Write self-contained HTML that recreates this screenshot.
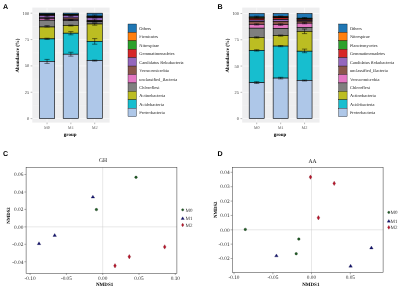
<!DOCTYPE html>
<html><head><meta charset="utf-8"><title>Figure</title>
<style>
html,body{margin:0;padding:0;background:#fff;}
body{width:400px;height:287px;overflow:hidden;font-family:"Liberation Serif",serif;}
svg{display:block;will-change:transform;text-rendering:geometricPrecision;}
</style></head><body>
<svg width="400" height="287" viewBox="0 0 400 287">
<rect x="0" y="0" width="400" height="287" fill="#FFFFFF"/>
<g>
<text x="2.9" y="9" font-size="7.1" text-anchor="start" fill="#000" font-weight="bold" font-family='"Liberation Sans",sans-serif'>A</text>
<text x="217.6" y="9" font-size="7.1" text-anchor="start" fill="#000" font-weight="bold" font-family='"Liberation Sans",sans-serif'>B</text>
<text x="2.9" y="156" font-size="7.1" text-anchor="start" fill="#000" font-weight="bold" font-family='"Liberation Sans",sans-serif'>C</text>
<text x="217.6" y="155.7" font-size="7.1" text-anchor="start" fill="#000" font-weight="bold" font-family='"Liberation Sans",sans-serif'>D</text>
<rect x="32.3" y="7.6" width="77.3" height="115" fill="#EEEEEF"/>
<line x1="32.3" y1="105.42" x2="109.6" y2="105.42" stroke="#F7F7F7" stroke-width="0.3"/>
<line x1="32.3" y1="79.08" x2="109.6" y2="79.08" stroke="#F7F7F7" stroke-width="0.3"/>
<line x1="32.3" y1="52.73" x2="109.6" y2="52.73" stroke="#F7F7F7" stroke-width="0.3"/>
<line x1="32.3" y1="26.38" x2="109.6" y2="26.38" stroke="#F7F7F7" stroke-width="0.3"/>
<line x1="32.3" y1="118.6" x2="109.6" y2="118.6" stroke="#FFFFFF" stroke-width="0.55"/>
<line x1="32.3" y1="92.25" x2="109.6" y2="92.25" stroke="#FFFFFF" stroke-width="0.55"/>
<line x1="32.3" y1="65.9" x2="109.6" y2="65.9" stroke="#FFFFFF" stroke-width="0.55"/>
<line x1="32.3" y1="39.55" x2="109.6" y2="39.55" stroke="#FFFFFF" stroke-width="0.55"/>
<line x1="32.3" y1="13.2" x2="109.6" y2="13.2" stroke="#FFFFFF" stroke-width="0.55"/>
<line x1="47.05" y1="7.6" x2="47.05" y2="122.6" stroke="#FFFFFF" stroke-width="0.55"/>
<line x1="70.85" y1="7.6" x2="70.85" y2="122.6" stroke="#FFFFFF" stroke-width="0.55"/>
<line x1="94.7" y1="7.6" x2="94.7" y2="122.6" stroke="#FFFFFF" stroke-width="0.55"/>
<line x1="30.6" y1="118.6" x2="32.3" y2="118.6" stroke="#555" stroke-width="0.4"/>
<text x="29.1" y="120.1" font-size="4.4" text-anchor="end" fill="#444" font-weight="normal" font-family='"Liberation Serif",serif'>0</text>
<line x1="30.6" y1="92.25" x2="32.3" y2="92.25" stroke="#555" stroke-width="0.4"/>
<text x="29.1" y="93.75" font-size="4.4" text-anchor="end" fill="#444" font-weight="normal" font-family='"Liberation Serif",serif'>25</text>
<line x1="30.6" y1="65.9" x2="32.3" y2="65.9" stroke="#555" stroke-width="0.4"/>
<text x="29.1" y="67.4" font-size="4.4" text-anchor="end" fill="#444" font-weight="normal" font-family='"Liberation Serif",serif'>50</text>
<line x1="30.6" y1="39.55" x2="32.3" y2="39.55" stroke="#555" stroke-width="0.4"/>
<text x="29.1" y="41.05" font-size="4.4" text-anchor="end" fill="#444" font-weight="normal" font-family='"Liberation Serif",serif'>75</text>
<line x1="30.6" y1="13.2" x2="32.3" y2="13.2" stroke="#555" stroke-width="0.4"/>
<text x="29.1" y="14.7" font-size="4.4" text-anchor="end" fill="#444" font-weight="normal" font-family='"Liberation Serif",serif'>100</text>
<line x1="47.05" y1="122.6" x2="47.05" y2="124.2" stroke="#555" stroke-width="0.4"/>
<text x="47.05" y="129" font-size="4.3" text-anchor="middle" fill="#5A5A5A" font-weight="normal" font-family='"Liberation Serif",serif'>M0</text>
<line x1="70.85" y1="122.6" x2="70.85" y2="124.2" stroke="#555" stroke-width="0.4"/>
<text x="70.85" y="129" font-size="4.3" text-anchor="middle" fill="#5A5A5A" font-weight="normal" font-family='"Liberation Serif",serif'>M1</text>
<line x1="94.7" y1="122.6" x2="94.7" y2="124.2" stroke="#555" stroke-width="0.4"/>
<text x="94.7" y="129" font-size="4.3" text-anchor="middle" fill="#5A5A5A" font-weight="normal" font-family='"Liberation Serif",serif'>M2</text>
<text x="70.15" y="136.3" font-size="5" text-anchor="middle" fill="#000" font-weight="bold" font-family='"Liberation Serif",serif'>group</text>
<text x="0" y="0" font-size="5" font-weight="bold" text-anchor="middle" font-family='"Liberation Serif",serif' transform="translate(19.4,55.5) rotate(-90)">Abundance (%)</text>
<rect x="39.4" y="13.1" width="15.3" height="1" fill="#1F77B4" stroke="#000" stroke-width="0.6"/>
<rect x="39.4" y="14.1" width="15.3" height="0.5" fill="#FF7F0E" stroke="#000" stroke-width="0.6"/>
<rect x="39.4" y="14.6" width="15.3" height="0.5" fill="#2CA02C" stroke="#000" stroke-width="0.6"/>
<rect x="39.4" y="15.1" width="15.3" height="0.5" fill="#D62728" stroke="#000" stroke-width="0.6"/>
<rect x="39.4" y="15.6" width="15.3" height="2.3" fill="#9467BD" stroke="#000" stroke-width="0.6"/>
<rect x="39.4" y="17.9" width="15.3" height="0.6" fill="#8C564B" stroke="#000" stroke-width="0.6"/>
<rect x="39.4" y="18.5" width="15.3" height="1.7" fill="#E377C2" stroke="#000" stroke-width="0.6"/>
<rect x="39.4" y="20.2" width="15.3" height="6.8" fill="#7F7F7F" stroke="#000" stroke-width="0.6"/>
<rect x="39.4" y="27" width="15.3" height="11.9" fill="#BCBD22" stroke="#000" stroke-width="0.6"/>
<rect x="39.4" y="38.9" width="15.3" height="22.4" fill="#17BECF" stroke="#000" stroke-width="0.6"/>
<rect x="39.4" y="61.3" width="15.3" height="57.3" fill="#AEC7E8" stroke="#000" stroke-width="0.6"/>
<rect x="63.2" y="13.1" width="15.3" height="1.2" fill="#1F77B4" stroke="#000" stroke-width="0.6"/>
<rect x="63.2" y="14.3" width="15.3" height="0.4" fill="#FF7F0E" stroke="#000" stroke-width="0.6"/>
<rect x="63.2" y="14.7" width="15.3" height="0.4" fill="#2CA02C" stroke="#000" stroke-width="0.6"/>
<rect x="63.2" y="15.1" width="15.3" height="0.4" fill="#D62728" stroke="#000" stroke-width="0.6"/>
<rect x="63.2" y="15.5" width="15.3" height="2.5" fill="#9467BD" stroke="#000" stroke-width="0.6"/>
<rect x="63.2" y="18" width="15.3" height="1.6" fill="#8C564B" stroke="#000" stroke-width="0.6"/>
<rect x="63.2" y="19.6" width="15.3" height="1" fill="#E377C2" stroke="#000" stroke-width="0.6"/>
<rect x="63.2" y="20.6" width="15.3" height="4.9" fill="#7F7F7F" stroke="#000" stroke-width="0.6"/>
<rect x="63.2" y="25.5" width="15.3" height="7.7" fill="#BCBD22" stroke="#000" stroke-width="0.6"/>
<rect x="63.2" y="33.2" width="15.3" height="21" fill="#17BECF" stroke="#000" stroke-width="0.6"/>
<rect x="63.2" y="54.2" width="15.3" height="64.4" fill="#AEC7E8" stroke="#000" stroke-width="0.6"/>
<rect x="87.05" y="13.2" width="15.3" height="2.9" fill="#1F77B4" stroke="#000" stroke-width="0.6"/>
<rect x="87.05" y="16.1" width="15.3" height="0.5" fill="#FF7F0E" stroke="#000" stroke-width="0.6"/>
<rect x="87.05" y="16.6" width="15.3" height="0.5" fill="#2CA02C" stroke="#000" stroke-width="0.6"/>
<rect x="87.05" y="17.1" width="15.3" height="0.7" fill="#D62728" stroke="#000" stroke-width="0.6"/>
<rect x="87.05" y="17.8" width="15.3" height="2.6" fill="#9467BD" stroke="#000" stroke-width="0.6"/>
<rect x="87.05" y="20.4" width="15.3" height="0.8" fill="#8C564B" stroke="#000" stroke-width="0.6"/>
<rect x="87.05" y="21.2" width="15.3" height="0.6" fill="#E377C2" stroke="#000" stroke-width="0.6"/>
<rect x="87.05" y="21.8" width="15.3" height="2.2" fill="#7F7F7F" stroke="#000" stroke-width="0.6"/>
<rect x="87.05" y="24" width="15.3" height="17.3" fill="#BCBD22" stroke="#000" stroke-width="0.6"/>
<rect x="87.05" y="41.3" width="15.3" height="19.2" fill="#17BECF" stroke="#000" stroke-width="0.6"/>
<rect x="87.05" y="60.5" width="15.3" height="58.1" fill="#AEC7E8" stroke="#000" stroke-width="0.6"/>
<line x1="47.05" y1="59.4" x2="47.05" y2="63.4" stroke="#000" stroke-width="0.5"/>
<line x1="44.45" y1="59.4" x2="49.65" y2="59.4" stroke="#000" stroke-width="0.5"/>
<line x1="44.45" y1="63.4" x2="49.65" y2="63.4" stroke="#000" stroke-width="0.5"/>
<line x1="47.05" y1="38.2" x2="47.05" y2="39.4" stroke="#000" stroke-width="0.5"/>
<line x1="44.45" y1="38.2" x2="49.65" y2="38.2" stroke="#000" stroke-width="0.5"/>
<line x1="44.45" y1="39.4" x2="49.65" y2="39.4" stroke="#000" stroke-width="0.5"/>
<line x1="47.05" y1="25.6" x2="47.05" y2="27" stroke="#000" stroke-width="0.5"/>
<line x1="44.45" y1="25.6" x2="49.65" y2="25.6" stroke="#000" stroke-width="0.5"/>
<line x1="44.45" y1="27" x2="49.65" y2="27" stroke="#000" stroke-width="0.5"/>
<line x1="47.05" y1="15.2" x2="47.05" y2="16.8" stroke="#000" stroke-width="0.5"/>
<line x1="44.45" y1="15.2" x2="49.65" y2="15.2" stroke="#000" stroke-width="0.5"/>
<line x1="44.45" y1="16.8" x2="49.65" y2="16.8" stroke="#000" stroke-width="0.5"/>
<line x1="47.05" y1="18.5" x2="47.05" y2="19.5" stroke="#000" stroke-width="0.5"/>
<line x1="44.45" y1="18.5" x2="49.65" y2="18.5" stroke="#000" stroke-width="0.5"/>
<line x1="44.45" y1="19.5" x2="49.65" y2="19.5" stroke="#000" stroke-width="0.5"/>
<line x1="70.85" y1="52.25" x2="70.85" y2="56.15" stroke="#000" stroke-width="0.5"/>
<line x1="68.25" y1="52.25" x2="73.45" y2="52.25" stroke="#000" stroke-width="0.5"/>
<line x1="68.25" y1="56.15" x2="73.45" y2="56.15" stroke="#000" stroke-width="0.5"/>
<line x1="70.85" y1="31.6" x2="70.85" y2="34.8" stroke="#000" stroke-width="0.5"/>
<line x1="68.25" y1="31.6" x2="73.45" y2="31.6" stroke="#000" stroke-width="0.5"/>
<line x1="68.25" y1="34.8" x2="73.45" y2="34.8" stroke="#000" stroke-width="0.5"/>
<line x1="70.85" y1="25" x2="70.85" y2="26" stroke="#000" stroke-width="0.5"/>
<line x1="68.25" y1="25" x2="73.45" y2="25" stroke="#000" stroke-width="0.5"/>
<line x1="68.25" y1="26" x2="73.45" y2="26" stroke="#000" stroke-width="0.5"/>
<line x1="70.85" y1="15.2" x2="70.85" y2="16.4" stroke="#000" stroke-width="0.5"/>
<line x1="68.25" y1="15.2" x2="73.45" y2="15.2" stroke="#000" stroke-width="0.5"/>
<line x1="68.25" y1="16.4" x2="73.45" y2="16.4" stroke="#000" stroke-width="0.5"/>
<line x1="70.85" y1="19.5" x2="70.85" y2="20.5" stroke="#000" stroke-width="0.5"/>
<line x1="68.25" y1="19.5" x2="73.45" y2="19.5" stroke="#000" stroke-width="0.5"/>
<line x1="68.25" y1="20.5" x2="73.45" y2="20.5" stroke="#000" stroke-width="0.5"/>
<line x1="94.7" y1="60.1" x2="94.7" y2="61.1" stroke="#000" stroke-width="0.5"/>
<line x1="92.1" y1="60.1" x2="97.3" y2="60.1" stroke="#000" stroke-width="0.5"/>
<line x1="92.1" y1="61.1" x2="97.3" y2="61.1" stroke="#000" stroke-width="0.5"/>
<line x1="94.7" y1="38.6" x2="94.7" y2="44.2" stroke="#000" stroke-width="0.5"/>
<line x1="92.1" y1="38.6" x2="97.3" y2="38.6" stroke="#000" stroke-width="0.5"/>
<line x1="92.1" y1="44.2" x2="97.3" y2="44.2" stroke="#000" stroke-width="0.5"/>
<line x1="94.7" y1="23.2" x2="94.7" y2="25.2" stroke="#000" stroke-width="0.5"/>
<line x1="92.1" y1="23.2" x2="97.3" y2="23.2" stroke="#000" stroke-width="0.5"/>
<line x1="92.1" y1="25.2" x2="97.3" y2="25.2" stroke="#000" stroke-width="0.5"/>
<line x1="94.7" y1="15" x2="94.7" y2="17.4" stroke="#000" stroke-width="0.5"/>
<line x1="92.1" y1="15" x2="97.3" y2="15" stroke="#000" stroke-width="0.5"/>
<line x1="92.1" y1="17.4" x2="97.3" y2="17.4" stroke="#000" stroke-width="0.5"/>
<line x1="94.7" y1="19" x2="94.7" y2="22" stroke="#000" stroke-width="0.5"/>
<line x1="92.1" y1="19" x2="97.3" y2="19" stroke="#000" stroke-width="0.5"/>
<line x1="92.1" y1="22" x2="97.3" y2="22" stroke="#000" stroke-width="0.5"/>
<rect x="128" y="24" width="8.5" height="8.42" fill="#1F77B4" stroke="#000" stroke-width="0.35"/>
<text x="139.3" y="30.01" font-size="4.4" text-anchor="start" fill="#222" font-weight="normal" font-family='"Liberation Serif",serif'>Others</text>
<rect x="128" y="32.42" width="8.5" height="8.42" fill="#FF7F0E" stroke="#000" stroke-width="0.35"/>
<text x="139.3" y="38.43" font-size="4.4" text-anchor="start" fill="#222" font-weight="normal" font-family='"Liberation Serif",serif'>Firmicutes</text>
<rect x="128" y="40.84" width="8.5" height="8.42" fill="#2CA02C" stroke="#000" stroke-width="0.35"/>
<text x="139.3" y="46.85" font-size="4.4" text-anchor="start" fill="#222" font-weight="normal" font-family='"Liberation Serif",serif'>Nitrospirae</text>
<rect x="128" y="49.26" width="8.5" height="8.42" fill="#D62728" stroke="#000" stroke-width="0.35"/>
<text x="139.3" y="55.27" font-size="4.4" text-anchor="start" fill="#222" font-weight="normal" font-family='"Liberation Serif",serif'>Gemmatimonadetes</text>
<rect x="128" y="57.68" width="8.5" height="8.42" fill="#9467BD" stroke="#000" stroke-width="0.35"/>
<text x="139.3" y="63.69" font-size="4.4" text-anchor="start" fill="#222" font-weight="normal" font-family='"Liberation Serif",serif'>Candidatus Rokubacteria</text>
<rect x="128" y="66.1" width="8.5" height="8.42" fill="#8C564B" stroke="#000" stroke-width="0.35"/>
<text x="139.3" y="72.11" font-size="4.4" text-anchor="start" fill="#222" font-weight="normal" font-family='"Liberation Serif",serif'>Verrucomicrobia</text>
<rect x="128" y="74.52" width="8.5" height="8.42" fill="#E377C2" stroke="#000" stroke-width="0.35"/>
<text x="139.3" y="80.53" font-size="4.4" text-anchor="start" fill="#222" font-weight="normal" font-family='"Liberation Serif",serif'>unclassified_Bacteria</text>
<rect x="128" y="82.94" width="8.5" height="8.42" fill="#7F7F7F" stroke="#000" stroke-width="0.35"/>
<text x="139.3" y="88.95" font-size="4.4" text-anchor="start" fill="#222" font-weight="normal" font-family='"Liberation Serif",serif'>Chloroflexi</text>
<rect x="128" y="91.36" width="8.5" height="8.42" fill="#BCBD22" stroke="#000" stroke-width="0.35"/>
<text x="139.3" y="97.37" font-size="4.4" text-anchor="start" fill="#222" font-weight="normal" font-family='"Liberation Serif",serif'>Actinobacteria</text>
<rect x="128" y="99.78" width="8.5" height="8.42" fill="#17BECF" stroke="#000" stroke-width="0.35"/>
<text x="139.3" y="105.79" font-size="4.4" text-anchor="start" fill="#222" font-weight="normal" font-family='"Liberation Serif",serif'>Acidobacteria</text>
<rect x="128" y="108.2" width="8.5" height="8.42" fill="#AEC7E8" stroke="#000" stroke-width="0.35"/>
<text x="139.3" y="114.21" font-size="4.4" text-anchor="start" fill="#222" font-weight="normal" font-family='"Liberation Serif",serif'>Proteobacteria</text>
<rect x="242.2" y="7.6" width="77.3" height="115" fill="#EEEEEF"/>
<line x1="242.2" y1="105.46" x2="319.5" y2="105.46" stroke="#F7F7F7" stroke-width="0.3"/>
<line x1="242.2" y1="79.19" x2="319.5" y2="79.19" stroke="#F7F7F7" stroke-width="0.3"/>
<line x1="242.2" y1="52.91" x2="319.5" y2="52.91" stroke="#F7F7F7" stroke-width="0.3"/>
<line x1="242.2" y1="26.64" x2="319.5" y2="26.64" stroke="#F7F7F7" stroke-width="0.3"/>
<line x1="242.2" y1="118.6" x2="319.5" y2="118.6" stroke="#FFFFFF" stroke-width="0.55"/>
<line x1="242.2" y1="92.32" x2="319.5" y2="92.32" stroke="#FFFFFF" stroke-width="0.55"/>
<line x1="242.2" y1="66.05" x2="319.5" y2="66.05" stroke="#FFFFFF" stroke-width="0.55"/>
<line x1="242.2" y1="39.78" x2="319.5" y2="39.78" stroke="#FFFFFF" stroke-width="0.55"/>
<line x1="242.2" y1="13.5" x2="319.5" y2="13.5" stroke="#FFFFFF" stroke-width="0.55"/>
<line x1="256.7" y1="7.6" x2="256.7" y2="122.6" stroke="#FFFFFF" stroke-width="0.55"/>
<line x1="280.65" y1="7.6" x2="280.65" y2="122.6" stroke="#FFFFFF" stroke-width="0.55"/>
<line x1="304.55" y1="7.6" x2="304.55" y2="122.6" stroke="#FFFFFF" stroke-width="0.55"/>
<line x1="240.5" y1="118.6" x2="242.2" y2="118.6" stroke="#555" stroke-width="0.4"/>
<text x="239" y="120.1" font-size="4.4" text-anchor="end" fill="#444" font-weight="normal" font-family='"Liberation Serif",serif'>0</text>
<line x1="240.5" y1="92.32" x2="242.2" y2="92.32" stroke="#555" stroke-width="0.4"/>
<text x="239" y="93.82" font-size="4.4" text-anchor="end" fill="#444" font-weight="normal" font-family='"Liberation Serif",serif'>25</text>
<line x1="240.5" y1="66.05" x2="242.2" y2="66.05" stroke="#555" stroke-width="0.4"/>
<text x="239" y="67.55" font-size="4.4" text-anchor="end" fill="#444" font-weight="normal" font-family='"Liberation Serif",serif'>50</text>
<line x1="240.5" y1="39.78" x2="242.2" y2="39.78" stroke="#555" stroke-width="0.4"/>
<text x="239" y="41.28" font-size="4.4" text-anchor="end" fill="#444" font-weight="normal" font-family='"Liberation Serif",serif'>75</text>
<line x1="240.5" y1="13.5" x2="242.2" y2="13.5" stroke="#555" stroke-width="0.4"/>
<text x="239" y="15" font-size="4.4" text-anchor="end" fill="#444" font-weight="normal" font-family='"Liberation Serif",serif'>100</text>
<line x1="256.7" y1="122.6" x2="256.7" y2="124.2" stroke="#555" stroke-width="0.4"/>
<text x="256.7" y="129" font-size="4.3" text-anchor="middle" fill="#5A5A5A" font-weight="normal" font-family='"Liberation Serif",serif'>M0</text>
<line x1="280.65" y1="122.6" x2="280.65" y2="124.2" stroke="#555" stroke-width="0.4"/>
<text x="280.65" y="129" font-size="4.3" text-anchor="middle" fill="#5A5A5A" font-weight="normal" font-family='"Liberation Serif",serif'>M1</text>
<line x1="304.55" y1="122.6" x2="304.55" y2="124.2" stroke="#555" stroke-width="0.4"/>
<text x="304.55" y="129" font-size="4.3" text-anchor="middle" fill="#5A5A5A" font-weight="normal" font-family='"Liberation Serif",serif'>M2</text>
<text x="280.05" y="136.3" font-size="5" text-anchor="middle" fill="#000" font-weight="bold" font-family='"Liberation Serif",serif'>group</text>
<text x="0" y="0" font-size="5" font-weight="bold" text-anchor="middle" font-family='"Liberation Serif",serif' transform="translate(229.2,55.5) rotate(-90)">Abundance (%)</text>
<rect x="249.2" y="13.6" width="15" height="3.4" fill="#1F77B4" stroke="#000" stroke-width="0.6"/>
<rect x="249.2" y="17" width="15" height="0.6" fill="#FF7F0E" stroke="#000" stroke-width="0.6"/>
<rect x="249.2" y="17.6" width="15" height="0.7" fill="#2CA02C" stroke="#000" stroke-width="0.6"/>
<rect x="249.2" y="18.3" width="15" height="1.7" fill="#D62728" stroke="#000" stroke-width="0.6"/>
<rect x="249.2" y="20" width="15" height="1.7" fill="#9467BD" stroke="#000" stroke-width="0.6"/>
<rect x="249.2" y="21.7" width="15" height="2.7" fill="#8C564B" stroke="#000" stroke-width="0.6"/>
<rect x="249.2" y="24.4" width="15" height="3.8" fill="#E377C2" stroke="#000" stroke-width="0.6"/>
<rect x="249.2" y="28.2" width="15" height="9.2" fill="#7F7F7F" stroke="#000" stroke-width="0.6"/>
<rect x="249.2" y="37.4" width="15" height="13" fill="#BCBD22" stroke="#000" stroke-width="0.6"/>
<rect x="249.2" y="50.4" width="15" height="32.3" fill="#17BECF" stroke="#000" stroke-width="0.6"/>
<rect x="249.2" y="82.7" width="15" height="35.9" fill="#AEC7E8" stroke="#000" stroke-width="0.6"/>
<rect x="273.15" y="13.6" width="15" height="3" fill="#1F77B4" stroke="#000" stroke-width="0.6"/>
<rect x="273.15" y="16.6" width="15" height="0.6" fill="#FF7F0E" stroke="#000" stroke-width="0.6"/>
<rect x="273.15" y="17.2" width="15" height="0.7" fill="#2CA02C" stroke="#000" stroke-width="0.6"/>
<rect x="273.15" y="17.9" width="15" height="1.7" fill="#D62728" stroke="#000" stroke-width="0.6"/>
<rect x="273.15" y="19.6" width="15" height="1.7" fill="#9467BD" stroke="#000" stroke-width="0.6"/>
<rect x="273.15" y="21.3" width="15" height="3.3" fill="#8C564B" stroke="#000" stroke-width="0.6"/>
<rect x="273.15" y="24.6" width="15" height="4" fill="#E377C2" stroke="#000" stroke-width="0.6"/>
<rect x="273.15" y="28.6" width="15" height="7" fill="#7F7F7F" stroke="#000" stroke-width="0.6"/>
<rect x="273.15" y="35.6" width="15" height="10.5" fill="#BCBD22" stroke="#000" stroke-width="0.6"/>
<rect x="273.15" y="46.1" width="15" height="32" fill="#17BECF" stroke="#000" stroke-width="0.6"/>
<rect x="273.15" y="78.1" width="15" height="40.5" fill="#AEC7E8" stroke="#000" stroke-width="0.6"/>
<rect x="297.05" y="13.6" width="15" height="4.6" fill="#1F77B4" stroke="#000" stroke-width="0.6"/>
<rect x="297.05" y="18.2" width="15" height="0.5" fill="#FF7F0E" stroke="#000" stroke-width="0.6"/>
<rect x="297.05" y="18.7" width="15" height="0.6" fill="#2CA02C" stroke="#000" stroke-width="0.6"/>
<rect x="297.05" y="19.3" width="15" height="1" fill="#D62728" stroke="#000" stroke-width="0.6"/>
<rect x="297.05" y="20.3" width="15" height="0.9" fill="#9467BD" stroke="#000" stroke-width="0.6"/>
<rect x="297.05" y="21.2" width="15" height="2" fill="#8C564B" stroke="#000" stroke-width="0.6"/>
<rect x="297.05" y="23.2" width="15" height="4.2" fill="#E377C2" stroke="#000" stroke-width="0.6"/>
<rect x="297.05" y="27.4" width="15" height="3.9" fill="#7F7F7F" stroke="#000" stroke-width="0.6"/>
<rect x="297.05" y="31.3" width="15" height="19.9" fill="#BCBD22" stroke="#000" stroke-width="0.6"/>
<rect x="297.05" y="51.2" width="15" height="29.2" fill="#17BECF" stroke="#000" stroke-width="0.6"/>
<rect x="297.05" y="80.4" width="15" height="38.2" fill="#AEC7E8" stroke="#000" stroke-width="0.6"/>
<line x1="256.7" y1="81.7" x2="256.7" y2="83.5" stroke="#000" stroke-width="0.5"/>
<line x1="254.1" y1="81.7" x2="259.3" y2="81.7" stroke="#000" stroke-width="0.5"/>
<line x1="254.1" y1="83.5" x2="259.3" y2="83.5" stroke="#000" stroke-width="0.5"/>
<line x1="256.7" y1="49.7" x2="256.7" y2="51.1" stroke="#000" stroke-width="0.5"/>
<line x1="254.1" y1="49.7" x2="259.3" y2="49.7" stroke="#000" stroke-width="0.5"/>
<line x1="254.1" y1="51.1" x2="259.3" y2="51.1" stroke="#000" stroke-width="0.5"/>
<line x1="256.7" y1="36.8" x2="256.7" y2="38" stroke="#000" stroke-width="0.5"/>
<line x1="254.1" y1="36.8" x2="259.3" y2="36.8" stroke="#000" stroke-width="0.5"/>
<line x1="254.1" y1="38" x2="259.3" y2="38" stroke="#000" stroke-width="0.5"/>
<line x1="256.7" y1="23.8" x2="256.7" y2="25" stroke="#000" stroke-width="0.5"/>
<line x1="254.1" y1="23.8" x2="259.3" y2="23.8" stroke="#000" stroke-width="0.5"/>
<line x1="254.1" y1="25" x2="259.3" y2="25" stroke="#000" stroke-width="0.5"/>
<line x1="256.7" y1="16.2" x2="256.7" y2="17.8" stroke="#000" stroke-width="0.5"/>
<line x1="254.1" y1="16.2" x2="259.3" y2="16.2" stroke="#000" stroke-width="0.5"/>
<line x1="254.1" y1="17.8" x2="259.3" y2="17.8" stroke="#000" stroke-width="0.5"/>
<line x1="280.65" y1="77.3" x2="280.65" y2="78.9" stroke="#000" stroke-width="0.5"/>
<line x1="278.05" y1="77.3" x2="283.25" y2="77.3" stroke="#000" stroke-width="0.5"/>
<line x1="278.05" y1="78.9" x2="283.25" y2="78.9" stroke="#000" stroke-width="0.5"/>
<line x1="280.65" y1="45.5" x2="280.65" y2="46.7" stroke="#000" stroke-width="0.5"/>
<line x1="278.05" y1="45.5" x2="283.25" y2="45.5" stroke="#000" stroke-width="0.5"/>
<line x1="278.05" y1="46.7" x2="283.25" y2="46.7" stroke="#000" stroke-width="0.5"/>
<line x1="280.65" y1="35" x2="280.65" y2="36.2" stroke="#000" stroke-width="0.5"/>
<line x1="278.05" y1="35" x2="283.25" y2="35" stroke="#000" stroke-width="0.5"/>
<line x1="278.05" y1="36.2" x2="283.25" y2="36.2" stroke="#000" stroke-width="0.5"/>
<line x1="280.65" y1="23.8" x2="280.65" y2="25.4" stroke="#000" stroke-width="0.5"/>
<line x1="278.05" y1="23.8" x2="283.25" y2="23.8" stroke="#000" stroke-width="0.5"/>
<line x1="278.05" y1="25.4" x2="283.25" y2="25.4" stroke="#000" stroke-width="0.5"/>
<line x1="280.65" y1="16" x2="280.65" y2="17.2" stroke="#000" stroke-width="0.5"/>
<line x1="278.05" y1="16" x2="283.25" y2="16" stroke="#000" stroke-width="0.5"/>
<line x1="278.05" y1="17.2" x2="283.25" y2="17.2" stroke="#000" stroke-width="0.5"/>
<line x1="304.55" y1="80" x2="304.55" y2="81" stroke="#000" stroke-width="0.5"/>
<line x1="301.95" y1="80" x2="307.15" y2="80" stroke="#000" stroke-width="0.5"/>
<line x1="301.95" y1="81" x2="307.15" y2="81" stroke="#000" stroke-width="0.5"/>
<line x1="304.55" y1="49.1" x2="304.55" y2="52.7" stroke="#000" stroke-width="0.5"/>
<line x1="301.95" y1="49.1" x2="307.15" y2="49.1" stroke="#000" stroke-width="0.5"/>
<line x1="301.95" y1="52.7" x2="307.15" y2="52.7" stroke="#000" stroke-width="0.5"/>
<line x1="304.55" y1="29" x2="304.55" y2="33.6" stroke="#000" stroke-width="0.5"/>
<line x1="301.95" y1="29" x2="307.15" y2="29" stroke="#000" stroke-width="0.5"/>
<line x1="301.95" y1="33.6" x2="307.15" y2="33.6" stroke="#000" stroke-width="0.5"/>
<line x1="304.55" y1="22.6" x2="304.55" y2="23.8" stroke="#000" stroke-width="0.5"/>
<line x1="301.95" y1="22.6" x2="307.15" y2="22.6" stroke="#000" stroke-width="0.5"/>
<line x1="301.95" y1="23.8" x2="307.15" y2="23.8" stroke="#000" stroke-width="0.5"/>
<line x1="304.55" y1="17.5" x2="304.55" y2="18.9" stroke="#000" stroke-width="0.5"/>
<line x1="301.95" y1="17.5" x2="307.15" y2="17.5" stroke="#000" stroke-width="0.5"/>
<line x1="301.95" y1="18.9" x2="307.15" y2="18.9" stroke="#000" stroke-width="0.5"/>
<rect x="338.6" y="24" width="8.5" height="8.42" fill="#1F77B4" stroke="#000" stroke-width="0.35"/>
<text x="349.9" y="30.01" font-size="4.4" text-anchor="start" fill="#222" font-weight="normal" font-family='"Liberation Serif",serif'>Others</text>
<rect x="338.6" y="32.42" width="8.5" height="8.42" fill="#FF7F0E" stroke="#000" stroke-width="0.35"/>
<text x="349.9" y="38.43" font-size="4.4" text-anchor="start" fill="#222" font-weight="normal" font-family='"Liberation Serif",serif'>Nitrospirae</text>
<rect x="338.6" y="40.84" width="8.5" height="8.42" fill="#2CA02C" stroke="#000" stroke-width="0.35"/>
<text x="349.9" y="46.85" font-size="4.4" text-anchor="start" fill="#222" font-weight="normal" font-family='"Liberation Serif",serif'>Planctomycetes</text>
<rect x="338.6" y="49.26" width="8.5" height="8.42" fill="#D62728" stroke="#000" stroke-width="0.35"/>
<text x="349.9" y="55.27" font-size="4.4" text-anchor="start" fill="#222" font-weight="normal" font-family='"Liberation Serif",serif'>Gemmatimonadetes</text>
<rect x="338.6" y="57.68" width="8.5" height="8.42" fill="#9467BD" stroke="#000" stroke-width="0.35"/>
<text x="349.9" y="63.69" font-size="4.4" text-anchor="start" fill="#222" font-weight="normal" font-family='"Liberation Serif",serif'>Candidatus Rokubacteria</text>
<rect x="338.6" y="66.1" width="8.5" height="8.42" fill="#8C564B" stroke="#000" stroke-width="0.35"/>
<text x="349.9" y="72.11" font-size="4.4" text-anchor="start" fill="#222" font-weight="normal" font-family='"Liberation Serif",serif'>unclassified_Bacteria</text>
<rect x="338.6" y="74.52" width="8.5" height="8.42" fill="#E377C2" stroke="#000" stroke-width="0.35"/>
<text x="349.9" y="80.53" font-size="4.4" text-anchor="start" fill="#222" font-weight="normal" font-family='"Liberation Serif",serif'>Verrucomicrobia</text>
<rect x="338.6" y="82.94" width="8.5" height="8.42" fill="#7F7F7F" stroke="#000" stroke-width="0.35"/>
<text x="349.9" y="88.95" font-size="4.4" text-anchor="start" fill="#222" font-weight="normal" font-family='"Liberation Serif",serif'>Chloroflexi</text>
<rect x="338.6" y="91.36" width="8.5" height="8.42" fill="#BCBD22" stroke="#000" stroke-width="0.35"/>
<text x="349.9" y="97.37" font-size="4.4" text-anchor="start" fill="#222" font-weight="normal" font-family='"Liberation Serif",serif'>Actinobacteria</text>
<rect x="338.6" y="99.78" width="8.5" height="8.42" fill="#17BECF" stroke="#000" stroke-width="0.35"/>
<text x="349.9" y="105.79" font-size="4.4" text-anchor="start" fill="#222" font-weight="normal" font-family='"Liberation Serif",serif'>Acidobacteria</text>
<rect x="338.6" y="108.2" width="8.5" height="8.42" fill="#AEC7E8" stroke="#000" stroke-width="0.35"/>
<text x="349.9" y="114.21" font-size="4.4" text-anchor="start" fill="#222" font-weight="normal" font-family='"Liberation Serif",serif'>Proteobacteria</text>
<line x1="102.7" y1="167.3" x2="102.7" y2="273.3" stroke="#CCCCCC" stroke-width="0.45"/>
<line x1="26.1" y1="226.85" x2="176.9" y2="226.85" stroke="#CCCCCC" stroke-width="0.45"/>
<rect x="26.1" y="167.3" width="150.8" height="106" fill="none" stroke="#333" stroke-width="0.5"/>
<line x1="30.1" y1="273.3" x2="30.1" y2="275" stroke="#333" stroke-width="0.4"/>
<text x="30.1" y="279.5" font-size="5.3" text-anchor="middle" fill="#2E2E2E" font-weight="normal" font-family='"Liberation Serif",serif'>-0.10</text>
<line x1="66.4" y1="273.3" x2="66.4" y2="275" stroke="#333" stroke-width="0.4"/>
<text x="66.4" y="279.5" font-size="5.3" text-anchor="middle" fill="#2E2E2E" font-weight="normal" font-family='"Liberation Serif",serif'>-0.05</text>
<line x1="102.7" y1="273.3" x2="102.7" y2="275" stroke="#333" stroke-width="0.4"/>
<text x="102.7" y="279.5" font-size="5.3" text-anchor="middle" fill="#2E2E2E" font-weight="normal" font-family='"Liberation Serif",serif'>0.00</text>
<line x1="139" y1="273.3" x2="139" y2="275" stroke="#333" stroke-width="0.4"/>
<text x="139" y="279.5" font-size="5.3" text-anchor="middle" fill="#2E2E2E" font-weight="normal" font-family='"Liberation Serif",serif'>0.05</text>
<line x1="175.3" y1="273.3" x2="175.3" y2="275" stroke="#333" stroke-width="0.4"/>
<text x="175.3" y="279.5" font-size="5.3" text-anchor="middle" fill="#2E2E2E" font-weight="normal" font-family='"Liberation Serif",serif'>0.10</text>
<line x1="24.4" y1="174.5" x2="26.1" y2="174.5" stroke="#333" stroke-width="0.4"/>
<text x="23.4" y="176.25" font-size="5.3" text-anchor="end" fill="#2E2E2E" font-weight="normal" font-family='"Liberation Serif",serif'>0.06</text>
<line x1="24.4" y1="192" x2="26.1" y2="192" stroke="#333" stroke-width="0.4"/>
<text x="23.4" y="193.75" font-size="5.3" text-anchor="end" fill="#2E2E2E" font-weight="normal" font-family='"Liberation Serif",serif'>0.04</text>
<line x1="24.4" y1="209.4" x2="26.1" y2="209.4" stroke="#333" stroke-width="0.4"/>
<text x="23.4" y="211.15" font-size="5.3" text-anchor="end" fill="#2E2E2E" font-weight="normal" font-family='"Liberation Serif",serif'>0.02</text>
<line x1="24.4" y1="226.85" x2="26.1" y2="226.85" stroke="#333" stroke-width="0.4"/>
<text x="23.4" y="228.6" font-size="5.3" text-anchor="end" fill="#2E2E2E" font-weight="normal" font-family='"Liberation Serif",serif'>0.00</text>
<line x1="24.4" y1="244.3" x2="26.1" y2="244.3" stroke="#333" stroke-width="0.4"/>
<text x="23.4" y="246.05" font-size="5.3" text-anchor="end" fill="#2E2E2E" font-weight="normal" font-family='"Liberation Serif",serif'>-0.02</text>
<line x1="24.4" y1="261.75" x2="26.1" y2="261.75" stroke="#333" stroke-width="0.4"/>
<text x="23.4" y="263.5" font-size="5.3" text-anchor="end" fill="#2E2E2E" font-weight="normal" font-family='"Liberation Serif",serif'>-0.04</text>
<text x="103.1" y="162.2" font-size="5.6" text-anchor="middle" fill="#111" font-weight="normal" font-family='"Liberation Serif",serif'>GH</text>
<text x="104.6" y="285.6" font-size="5" text-anchor="middle" fill="#000" font-weight="bold" font-family='"Liberation Serif",serif'>NMDS1</text>
<text x="0" y="0" font-size="4.8" font-weight="bold" text-anchor="middle" font-family='"Liberation Serif",serif' transform="translate(10,215.5) rotate(-90)">NMDS2</text>
<circle cx="136" cy="177.3" r="1.25" fill="#1F5F25" stroke="#0F2A12" stroke-width="0.35"/>
<circle cx="96.4" cy="209.6" r="1.25" fill="#1F5F25" stroke="#0F2A12" stroke-width="0.35"/>
<polygon points="92.9,195.13 91.12,198.05 94.68,198.05" fill="#14146E" stroke="#0A0A40" stroke-width="0.25"/>
<polygon points="54.7,233.53 52.92,236.45 56.48,236.45" fill="#14146E" stroke="#0A0A40" stroke-width="0.25"/>
<polygon points="39,241.73 37.22,244.65 40.78,244.65" fill="#14146E" stroke="#0A0A40" stroke-width="0.25"/>
<polygon points="115,263.6 116.35,265.8 115,268 113.65,265.8" fill="#B8142A" stroke="#70101A" stroke-width="0.3"/>
<polygon points="129.3,254.5 130.65,256.7 129.3,258.9 127.95,256.7" fill="#B8142A" stroke="#70101A" stroke-width="0.3"/>
<polygon points="164.7,244.7 166.05,246.9 164.7,249.1 163.35,246.9" fill="#B8142A" stroke="#70101A" stroke-width="0.3"/>
<circle cx="182.7" cy="209.8" r="1.1" fill="#1F5F25" stroke="#0F2A12" stroke-width="0.35"/>
<text x="185.5" y="211.5" font-size="5" text-anchor="start" fill="#333" font-weight="normal" font-family='"Liberation Serif",serif'>M0</text>
<polygon points="182.7,216.8 181.05,219.5 184.35,219.5" fill="#14146E" stroke="#0A0A40" stroke-width="0.25"/>
<text x="185.5" y="220" font-size="5" text-anchor="start" fill="#333" font-weight="normal" font-family='"Liberation Serif",serif'>M1</text>
<polygon points="182.7,223.15 183.9,225 182.7,226.85 181.5,225" fill="#B8142A" stroke="#70101A" stroke-width="0.3"/>
<text x="185.5" y="226.7" font-size="5" text-anchor="start" fill="#333" font-weight="normal" font-family='"Liberation Serif",serif'>M2</text>
<line x1="311.5" y1="167.3" x2="311.5" y2="272.6" stroke="#CCCCCC" stroke-width="0.45"/>
<line x1="232.3" y1="229.8" x2="383.1" y2="229.8" stroke="#CCCCCC" stroke-width="0.45"/>
<rect x="232.3" y="167.3" width="150.8" height="105.3" fill="none" stroke="#333" stroke-width="0.5"/>
<line x1="234" y1="272.6" x2="234" y2="274.3" stroke="#333" stroke-width="0.4"/>
<text x="234" y="278.9" font-size="5.3" text-anchor="middle" fill="#2E2E2E" font-weight="normal" font-family='"Liberation Serif",serif'>-0.10</text>
<line x1="272.9" y1="272.6" x2="272.9" y2="274.3" stroke="#333" stroke-width="0.4"/>
<text x="272.9" y="278.9" font-size="5.3" text-anchor="middle" fill="#2E2E2E" font-weight="normal" font-family='"Liberation Serif",serif'>-0.05</text>
<line x1="311.5" y1="272.6" x2="311.5" y2="274.3" stroke="#333" stroke-width="0.4"/>
<text x="311.5" y="278.9" font-size="5.3" text-anchor="middle" fill="#2E2E2E" font-weight="normal" font-family='"Liberation Serif",serif'>0.00</text>
<line x1="350.3" y1="272.6" x2="350.3" y2="274.3" stroke="#333" stroke-width="0.4"/>
<text x="350.3" y="278.9" font-size="5.3" text-anchor="middle" fill="#2E2E2E" font-weight="normal" font-family='"Liberation Serif",serif'>0.05</text>
<line x1="230.6" y1="172.3" x2="232.3" y2="172.3" stroke="#333" stroke-width="0.4"/>
<text x="229.6" y="174.05" font-size="5.3" text-anchor="end" fill="#2E2E2E" font-weight="normal" font-family='"Liberation Serif",serif'>0.04</text>
<line x1="230.6" y1="186.7" x2="232.3" y2="186.7" stroke="#333" stroke-width="0.4"/>
<text x="229.6" y="188.45" font-size="5.3" text-anchor="end" fill="#2E2E2E" font-weight="normal" font-family='"Liberation Serif",serif'>0.03</text>
<line x1="230.6" y1="201.1" x2="232.3" y2="201.1" stroke="#333" stroke-width="0.4"/>
<text x="229.6" y="202.85" font-size="5.3" text-anchor="end" fill="#2E2E2E" font-weight="normal" font-family='"Liberation Serif",serif'>0.02</text>
<line x1="230.6" y1="215.45" x2="232.3" y2="215.45" stroke="#333" stroke-width="0.4"/>
<text x="229.6" y="217.2" font-size="5.3" text-anchor="end" fill="#2E2E2E" font-weight="normal" font-family='"Liberation Serif",serif'>0.01</text>
<line x1="230.6" y1="229.8" x2="232.3" y2="229.8" stroke="#333" stroke-width="0.4"/>
<text x="229.6" y="231.55" font-size="5.3" text-anchor="end" fill="#2E2E2E" font-weight="normal" font-family='"Liberation Serif",serif'>0.00</text>
<line x1="230.6" y1="244.15" x2="232.3" y2="244.15" stroke="#333" stroke-width="0.4"/>
<text x="229.6" y="245.9" font-size="5.3" text-anchor="end" fill="#2E2E2E" font-weight="normal" font-family='"Liberation Serif",serif'>-0.01</text>
<line x1="230.6" y1="258.5" x2="232.3" y2="258.5" stroke="#333" stroke-width="0.4"/>
<text x="229.6" y="260.25" font-size="5.3" text-anchor="end" fill="#2E2E2E" font-weight="normal" font-family='"Liberation Serif",serif'>-0.02</text>
<text x="312.5" y="163.1" font-size="5.6" text-anchor="middle" fill="#111" font-weight="normal" font-family='"Liberation Serif",serif'>AA</text>
<text x="310.8" y="285.7" font-size="5" text-anchor="middle" fill="#000" font-weight="bold" font-family='"Liberation Serif",serif'>NMDS1</text>
<text x="0" y="0" font-size="4.8" font-weight="bold" text-anchor="middle" font-family='"Liberation Serif",serif' transform="translate(216.8,209.8) rotate(-90)">NMDS2</text>
<polygon points="310.5,174.9 311.85,177.1 310.5,179.3 309.15,177.1" fill="#B8142A" stroke="#70101A" stroke-width="0.3"/>
<polygon points="334.2,181.2 335.55,183.4 334.2,185.6 332.85,183.4" fill="#B8142A" stroke="#70101A" stroke-width="0.3"/>
<polygon points="318.4,215.6 319.75,217.8 318.4,220 317.05,217.8" fill="#B8142A" stroke="#70101A" stroke-width="0.3"/>
<circle cx="245.3" cy="229.4" r="1.25" fill="#1F5F25" stroke="#0F2A12" stroke-width="0.35"/>
<circle cx="298.8" cy="239.1" r="1.25" fill="#1F5F25" stroke="#0F2A12" stroke-width="0.35"/>
<circle cx="296.2" cy="253.7" r="1.25" fill="#1F5F25" stroke="#0F2A12" stroke-width="0.35"/>
<polygon points="276.4,253.93 274.62,256.85 278.18,256.85" fill="#14146E" stroke="#0A0A40" stroke-width="0.25"/>
<polygon points="371.4,246.03 369.62,248.95 373.18,248.95" fill="#14146E" stroke="#0A0A40" stroke-width="0.25"/>
<polygon points="350.6,264.23 348.82,267.15 352.38,267.15" fill="#14146E" stroke="#0A0A40" stroke-width="0.25"/>
<circle cx="388.8" cy="212.4" r="1.1" fill="#1F5F25" stroke="#0F2A12" stroke-width="0.35"/>
<text x="390.6" y="214.1" font-size="5" text-anchor="start" fill="#333" font-weight="normal" font-family='"Liberation Serif",serif'>M0</text>
<polygon points="388.8,219.5 387.15,222.2 390.45,222.2" fill="#14146E" stroke="#0A0A40" stroke-width="0.25"/>
<text x="390.6" y="222.7" font-size="5" text-anchor="start" fill="#333" font-weight="normal" font-family='"Liberation Serif",serif'>M1</text>
<polygon points="388.8,225.55 390,227.4 388.8,229.25 387.6,227.4" fill="#B8142A" stroke="#70101A" stroke-width="0.3"/>
<text x="390.6" y="229.1" font-size="5" text-anchor="start" fill="#333" font-weight="normal" font-family='"Liberation Serif",serif'>M2</text>
</g>
</svg>
</body></html>
